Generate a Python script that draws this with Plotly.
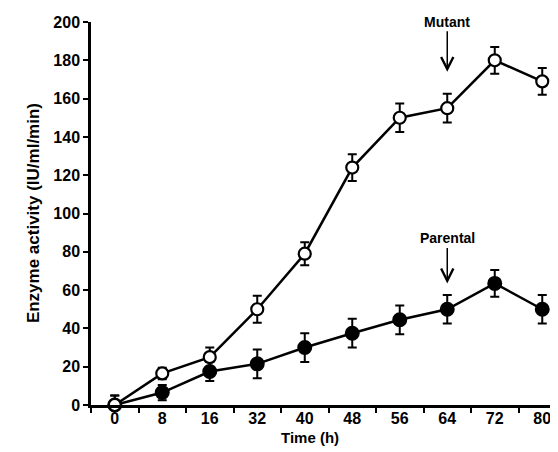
import plotly.graph_objects as go

time_labels = ["0", "8", "16", "32", "40", "48", "56", "64", "72", "80"]
mutant = [0, 16.5, 25, 50, 79, 124, 150, 155, 180, 169]
mutant_err = [5, 3, 5, 7, 6, 7, 7.5, 7.5, 7, 7]
parental = [0, 6.5, 17.5, 21.5, 30, 37.5, 44.5, 50, 63.5, 50]
parental_err = [5, 4, 5, 7.5, 7.5, 7.5, 7.5, 7.5, 7, 7.5]
y_ticks = list(range(0, 201, 20))
arrow_label_idx = time_labels.index("64")

FONT = "Liberation Sans, Arial, sans-serif"

fig = go.Figure()
fig.add_trace(go.Scatter(
    x=time_labels, y=parental, mode="lines+markers", name="Parental",
    line=dict(color="black", width=2.5),
    marker=dict(symbol="circle", size=13, color="black", line=dict(color="black", width=2)),
    error_y=dict(type="data", array=parental_err, visible=True, color="black", thickness=2, width=4.5),
    cliponaxis=False,
))
fig.add_trace(go.Scatter(
    x=time_labels, y=mutant, mode="lines+markers", name="Mutant",
    line=dict(color="black", width=2.5),
    marker=dict(symbol="circle", size=12, color="white", line=dict(color="black", width=2.2)),
    error_y=dict(type="data", array=mutant_err, visible=True, color="black", thickness=2, width=4.5),
    cliponaxis=False,
))

fig.update_layout(
    width=558, height=452,
    margin=dict(l=83, r=0, t=14, b=55),
    paper_bgcolor="white", plot_bgcolor="white",
    showlegend=False,
    font=dict(family=FONT, color="black"),
    xaxis=dict(
        type="category", categoryorder="array", categoryarray=time_labels,
        range=[-0.5, 9.5], showgrid=False, zeroline=False,
        showline=True, linecolor="black", linewidth=2.5,
        ticks="outside", tickson="boundaries", ticklen=5, tickwidth=2, tickcolor="black",
        ticklabelstandoff=-3,
        tickfont=dict(family=FONT, size=16, weight="bold", color="black"),
    ),
    yaxis=dict(
        range=[0, 200], tickvals=y_ticks, showgrid=False, zeroline=False,
        showline=True, linecolor="black", linewidth=2.5,
        ticks="outside", ticklen=5, tickwidth=2, tickcolor="black",
        tickfont=dict(family=FONT, size=16, weight="bold", color="black"),
    ),
    annotations=[
        dict(text="Time (h)", xref="paper", yref="paper", x=0.461, y=0, yshift=-32,
             xanchor="center", yanchor="middle", showarrow=False,
             font=dict(family=FONT, size=15, weight="bold", color="black")),
        dict(text="Enzyme activity (IU/ml/min)", xref="paper", yref="paper", x=0, xshift=-58,
             y=0.501, xanchor="center", yanchor="middle", textangle=-90, showarrow=False,
             font=dict(family=FONT, size=17, weight="bold", color="black")),
        dict(text="Mutant", x=arrow_label_idx, y=174, xref="x", yref="y", showarrow=True,
             axref="pixel", ayref="pixel",
             ax=0, ay=-50, arrowhead=5, arrowsize=1.6, arrowwidth=1.5, arrowcolor="black",
             font=dict(family=FONT, size=14, weight="bold", color="black")),
        dict(text="Parental", x=arrow_label_idx, y=63.5, xref="x", yref="y", showarrow=True,
             axref="pixel", ayref="pixel",
             ax=0, ay=-45, arrowhead=5, arrowsize=1.6, arrowwidth=1.5, arrowcolor="black",
             font=dict(family=FONT, size=14, weight="bold", color="black")),
    ],
)

fig.write_html("out.html")
